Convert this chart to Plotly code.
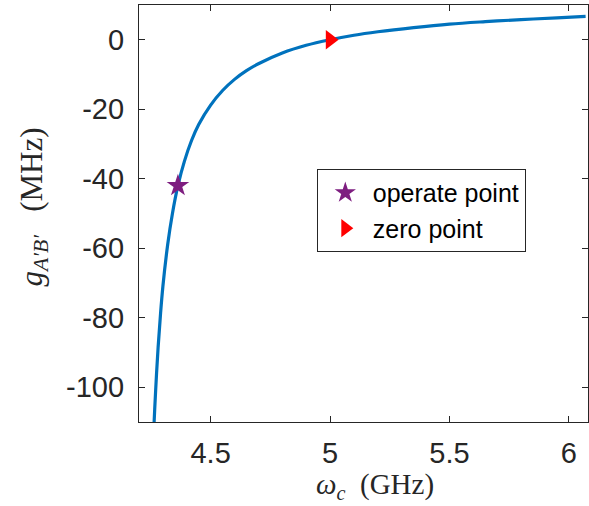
import plotly.graph_objects as go

# Curve: omega_c (GHz) vs g_A'B' (MHz)
omega_c = [4.255, 4.262, 4.270, 4.280, 4.290, 4.300, 4.320, 4.340, 4.363, 4.390,
           4.420, 4.450, 4.500, 4.550, 4.600, 4.650, 4.700, 4.800, 4.900, 5.000,
           5.100, 5.200, 5.350, 5.500, 5.650, 5.800, 5.950, 6.070]
g_ab = [-124.0, -112.0, -100.5, -88.5, -79.0, -71.0, -59.0, -50.0, -42.0, -35.0,
        -29.0, -24.4, -18.8, -14.6, -11.4, -8.9, -6.9, -3.8, -1.6, 0.0,
        1.3, 2.3, 3.5, 4.5, 5.2, 5.8, 6.3, 6.7]

operate_x = [4.363]
operate_y = [-42.0]
zero_x = [5.0]
zero_y = [0.0]

x_ticks = [4.5, 5, 5.5, 6]
x_labels = ["4.5", "5", "5.5", "6"]
y_ticks = [-100, -80, -60, -40, -20, 0]
y_labels = ["-100", "-80", "-60", "-40", "-20", "0"]

x_title = "<i>ω</i><sub><i>c</i></sub>\u00a0\u00a0(GHz)"
y_title = "<i>g</i><sub><i>A′B′</i></sub>\u00a0\u00a0\u00a0(MHz)"

axis_col = "#262626"
tick_font = dict(family="Liberation Sans, Arial", size=29, color=axis_col)
serif = "Liberation Serif, Times New Roman"

fig = go.Figure()
fig.add_trace(go.Scatter(x=omega_c, y=g_ab, mode="lines", line=dict(color="#0072BD", width=3.2, shape="spline"),
                         showlegend=False, hoverinfo="skip"))
fig.add_trace(go.Scatter(x=operate_x, y=operate_y, mode="markers", name="operate point",
                         marker=dict(symbol="star", size=17, color="#7E1E80", line=dict(width=0))))
fig.add_trace(go.Scatter(x=zero_x, y=zero_y, mode="markers", name="zero point",
                         marker=dict(symbol="triangle-right", size=17, color="#FF0000", line=dict(width=0))))

fig.update_layout(
    width=589, height=506,
    margin=dict(l=139, r=1, t=5, b=84),
    paper_bgcolor="white", plot_bgcolor="white",
    xaxis=dict(range=[4.2, 6.08], tickvals=x_ticks, ticktext=x_labels, ticks="inside", ticklen=6,
               tickcolor=axis_col, showline=True, linecolor=axis_col, linewidth=1.3, mirror="ticks",
               showgrid=False, zeroline=False, tickfont=tick_font, ticklabelstandoff=5),
    yaxis=dict(range=[-110, 10], tickvals=y_ticks, ticktext=y_labels, ticks="inside", ticklen=6,
               tickcolor=axis_col, showline=True, linecolor=axis_col, linewidth=1.3, mirror="ticks",
               showgrid=False, zeroline=False, tickfont=tick_font, ticklabelstandoff=8),
    legend=dict(x=0.396, y=0.607, xanchor="left", yanchor="top", bgcolor="white",
                bordercolor=axis_col, borderwidth=1, tracegroupgap=0, itemwidth=45,
                font=dict(family="Liberation Sans, Arial", size=25, color="#000000")),
    annotations=[
        dict(text=x_title, xref="paper", yref="paper", x=(374.5 - 139) / 449, y=-(486 - 422) / 417,
             xanchor="center", yanchor="middle", showarrow=False,
             font=dict(family=serif, size=29, color=axis_col)),
        dict(text=y_title, xref="paper", yref="paper", x=-(139 - 33) / 449, y=(422 - 207.5) / 417,
             xanchor="center", yanchor="middle", showarrow=False, textangle=-90,
             font=dict(family=serif, size=31, color=axis_col)),
    ],
)

fig.write_html("out.html")
